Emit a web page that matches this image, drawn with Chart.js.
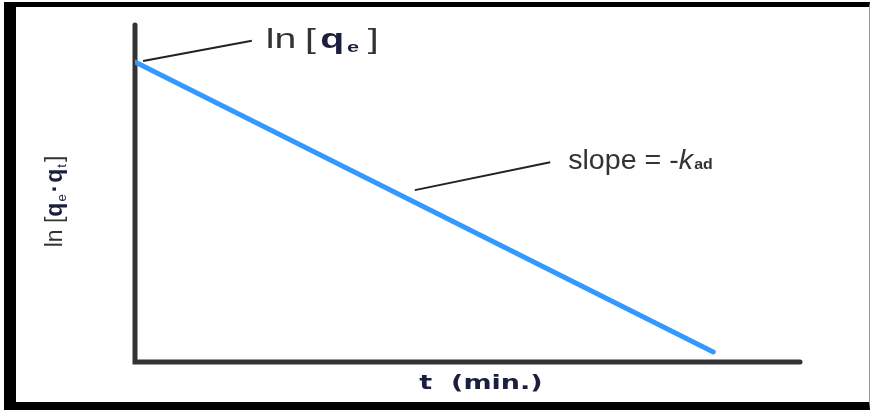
<!DOCTYPE html>
<html lang="en">
<head>
<meta charset="UTF-8">
<title>ln [qe - qt] versus t</title>
<script src="https://cdn.jsdelivr.net/npm/chart.js"></script>
<style>
  html, body { margin: 0; padding: 0; background: #fff; }
  .frame {
    position: absolute;
    left: 4px;
    top: 2px;
    width: 853px;
    height: 395px;
    border-left: 12px solid #000;
    border-top: 5px solid #000;
    border-bottom: 8px solid #000;
    border-right: 1px solid #999;
    background: #fff;
  }
  canvas { display: block; }
</style>
</head>
<body>

<div class="frame"><canvas id="kineticsChart"></canvas></div>

<script>
// pseudo-first-order plot: straight line from ln[qe] downwards
const times = [0, 100];
const lnValues = [8.9, 0.3];
const xRange = [0, 115];
const yRange = [0, 10];

// leader lines for the two callouts, [t, ln] at each end
const qeLeader = [[1.4, 8.93], [20.2, 9.53]];
const slopeLeader = [[48.4, 5.1], [71.8, 5.93]];

const ink = '#333333';
const navy = '#1b1e3c';
const FONT = 'Arial, "Liberation Sans", sans-serif';
const WIDE = '"DejaVu Sans", Verdana, sans-serif';

// text pieces: [text, style, size, colour, baseline shift, extra gap after]
const qeLabel = [
  ['ln', '', 27, ink, 0, 6],
  ['[', '', 27, ink, 0, 3],
  ['q', 'bold', 27, navy, 0, 2],
  ['e', 'bold', 15, navy, 4, 6],
  [']', '', 27, ink, 0, 0]
];
const slopeLabel = [
  ['slope = -', '', 27, ink, 0, 0],
  ['k', 'italic', 27, ink, 0, 1],
  ['ad', 'bold', 15, ink, 0, 0]
];
const yTitle = [
  ['ln [', '', 23, ink, 0, 0],
  ['q', 'bold', 23, navy, 0, 1],
  ['e', '', 13, navy, 4, 2],
  ['·', 'bold', 23, navy, 0, 2],
  ['q', 'bold', 23, navy, 0, 1],
  ['t', '', 13, navy, 4, 2],
  [']', '', 23, ink, 0, 0]
];
const xTitle = 't  (min.)';

function runWidth(ctx, runs) {
  let w = 0;
  runs.forEach(r => {
    ctx.font = `${r[1]} ${r[2]}px ${FONT}`;
    w += ctx.measureText(r[0]).width + r[5];
  });
  return w;
}

// draws a row of text pieces, stretched sideways by sx
function drawRuns(ctx, runs, x, y, sx = 1) {
  ctx.save();
  ctx.translate(x, y);
  ctx.scale(sx, 1);
  ctx.textBaseline = 'alphabetic';
  ctx.textAlign = 'left';
  let cx = 0;
  runs.forEach(r => {
    ctx.font = `${r[1]} ${r[2]}px ${FONT}`;
    ctx.fillStyle = r[3];
    ctx.fillText(r[0], cx, r[4]);
    cx += ctx.measureText(r[0]).width + r[5];
  });
  ctx.restore();
}

const axesAndNotes = {
  id: 'axesAndNotes',
  beforeDatasetsDraw(chart) {
    const { ctx, chartArea: a } = chart;
    ctx.save();
    ctx.strokeStyle = ink;
    ctx.lineWidth = 5;
    ctx.lineCap = 'round';
    ctx.beginPath();
    ctx.moveTo(a.left, a.top);
    ctx.lineTo(a.left, a.bottom);
    ctx.lineTo(a.right, a.bottom);
    ctx.stroke();
    ctx.restore();
  },
  afterDatasetsDraw(chart) {
    const { ctx, chartArea: a, scales: { x, y } } = chart;
    ctx.save();
    ctx.strokeStyle = '#222';
    ctx.lineWidth = 2;
    [qeLeader, slopeLeader].forEach(l => {
      ctx.beginPath();
      ctx.moveTo(x.getPixelForValue(l[0][0]), y.getPixelForValue(l[0][1]));
      ctx.lineTo(x.getPixelForValue(l[1][0]), y.getPixelForValue(l[1][1]));
      ctx.stroke();
    });

    drawRuns(ctx, qeLabel,
      x.getPixelForValue(qeLeader[1][0]) + 14, y.getPixelForValue(qeLeader[1][1]) + 7, 1.45);
    drawRuns(ctx, slopeLabel,
      x.getPixelForValue(slopeLeader[1][0]) + 18, y.getPixelForValue(slopeLeader[1][1]) + 7, 1.06);

    // y title, rotated
    ctx.save();
    ctx.translate(a.left - 81, (a.top + a.bottom) / 2 + 8);
    ctx.rotate(-Math.PI / 2);
    drawRuns(ctx, yTitle, -runWidth(ctx, yTitle) / 2, 8);
    ctx.restore();

    // x title
    ctx.translate(465, a.bottom + 22);
    ctx.scale(1.35, 1);
    ctx.font = `bold 20px ${WIDE}`;
    ctx.fillStyle = navy;
    ctx.textAlign = 'center';
    ctx.textBaseline = 'middle';
    ctx.fillText(xTitle, 0, 0);
    ctx.restore();
  }
};

new Chart(document.getElementById('kineticsChart'), {
  type: 'line',
  data: {
    datasets: [{
      data: times.map((t, i) => ({ x: t, y: lnValues[i] })),
      borderColor: '#3399ff',
      borderWidth: 5,
      borderCapStyle: 'round',
      pointRadius: 0,
      fill: false
    }]
  },
  options: {
    responsive: true,
    maintainAspectRatio: false,
    animation: false,
    layout: { padding: { left: 119, right: 69, top: 18, bottom: 40 } },
    plugins: { legend: { display: false }, tooltip: { enabled: false } },
    scales: {
      x: { type: 'linear', display: false, min: xRange[0], max: xRange[1] },
      y: { display: false, min: yRange[0], max: yRange[1] }
    }
  },
  plugins: [axesAndNotes]
});
</script>

</body>
</html>
